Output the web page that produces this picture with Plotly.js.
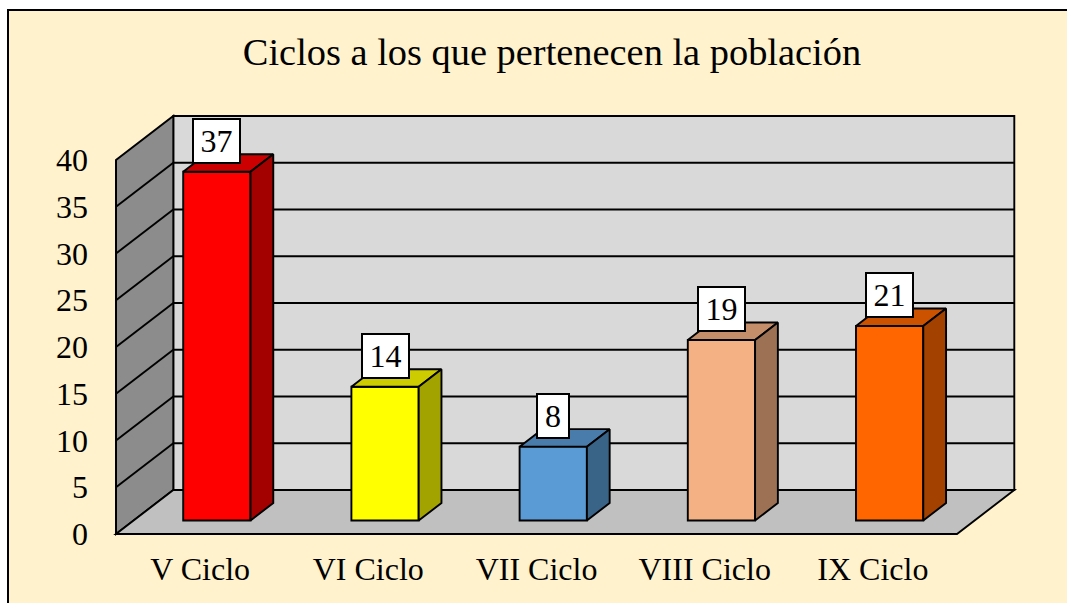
<!DOCTYPE html>
<html>
<head>
<meta charset="utf-8">
<script src="https://cdn.plot.ly/plotly-3.0.1.min.js"></script>
<style>
html,body{margin:0;padding:0;background:#fff;width:1067px;height:603px;overflow:hidden}
#frame{position:absolute;left:7px;top:9px;width:1070px;height:610px;border:2px solid #000;background:#FFF2CC}
#chart{position:absolute;left:0;top:0;width:1067px;height:603px}
</style>
</head>
<body>
<div id="frame"></div>
<div id="chart"></div>
<script>
const categories = ["V Ciclo", "VI Ciclo", "VII Ciclo", "VIII Ciclo", "IX Ciclo"];
// Bar heights; the printed labels are these rounded to whole numbers.
const values = [37.3, 14.3, 7.9, 19.3, 20.8];
const yTicks = [0, 5, 10, 15, 20, 25, 30, 35, 40];
const titleText = "Ciclos a los que pertenecen la población";

const barColors = ["#FF0000", "#FFFF00", "#5B9BD5", "#F4B183", "#FF6600"];

// plot geometry: the drawing box, plus a small pad so outer edges are not clipped
const W = 1067, H = 603;
const left = 116, right = 1014, top_ = 116, bottom = 534, pad = 4;
const catPx = 168.2, unitPx = 9.35;
const depthDx = 57.3 / catPx, depthDy = 44 / unitPx;   // oblique offset of full depth in data units
const barFront = 13.5 / 44, barBack = barFront + 17.5 / 44;
const barHalf = 0.2, barNudge = -0.005;
const serif = "Liberation Serif, Times New Roman, serif";

const xRange = [-0.5 - pad / catPx, -0.5 + (right - left + pad) / catPx];
const yRange = [-pad / unitPx, (bottom - top_ + pad) / unitPx];
const xMin = -0.5, xMax = categories.length - 0.5, yMax = 40;

const px = (x, d) => x + d * depthDx;
const py = (y, d) => y + d * depthDy;
const poly = (pts) => "M" + pts.map(p => p[0] + "," + p[1]).join("L") + "Z";
const pt = (x, y, d) => [px(x, d), py(y, d)];
function shade(hex, f) {
  const n = parseInt(hex.slice(1), 16);
  const c = [n >> 16, (n >> 8) & 255, n & 255].map(v => Math.round(v * f));
  return "rgb(" + c.join(",") + ")";
}

const edge = { color: "#000", width: 1.9 };
const shapes = [];
const addPoly = (pts, fill, line) => shapes.push({
  type: "path", xref: "x", yref: "y", layer: "below",
  path: poly(pts), fillcolor: fill, line: line
});
const addLine = (a, b, line) => shapes.push({
  type: "line", xref: "x", yref: "y", layer: "below",
  x0: a[0], y0: a[1], x1: b[0], y1: b[1], line: line
});

// back wall, side wall, floor
addPoly([pt(xMin,0,1), pt(xMax,0,1), pt(xMax,yMax,1), pt(xMin,yMax,1)], "#D9D9D9", edge);
addPoly([pt(xMin,0,0), pt(xMin,0,1), pt(xMin,yMax,1), pt(xMin,yMax,0)], "#8C8C8C", edge);
addPoly([pt(xMin,0,0), pt(xMax,0,0), pt(xMax,0,1), pt(xMin,0,1)], "#C0C0C0", edge);
// gridlines
yTicks.filter(t => t > 0 && t < yMax).forEach(t => {
  addLine(pt(xMin,t,0), pt(xMin,t,1), edge);
  addLine(pt(xMin,t,1), pt(xMax,t,1), edge);
});
addLine(pt(xMin,0,0), pt(xMax,0,0), { color: "#000", width: 2.2 });
addLine(pt(xMin,0,0), pt(xMin,yMax,0), { color: "#000", width: 2 });

const xIdx = categories.map((_, i) => i);
const traces = [];

// front faces
traces.push({
  type: "bar",
  x: xIdx.map(i => px(i + barNudge, barFront)),
  y: values,
  base: values.map(() => py(0, barFront)),
  width: barHalf * 2,
  marker: { color: barColors, line: { color: "#000", width: 1.9 } },
  hoverinfo: "skip",
  showlegend: false
});

// top and side faces
values.forEach((v, i) => {
  const a = i + barNudge - barHalf, b = i + barNudge + barHalf;
  const faces = [
    { pts: [pt(a,v,barFront), pt(b,v,barFront), pt(b,v,barBack), pt(a,v,barBack)], f: 0.8 },
    { pts: [pt(b,0,barFront), pt(b,0,barBack), pt(b,v,barBack), pt(b,v,barFront)], f: 0.64 }
  ];
  faces.forEach(face => {
    const closed = face.pts.concat([face.pts[0]]);
    traces.push({
      type: "scatter", mode: "lines", fill: "toself",
      x: closed.map(p => p[0]), y: closed.map(p => p[1]),
      fillcolor: shade(barColors[i], face.f),
      line: { color: "#000", width: 1.9 },
      hoverinfo: "skip", showlegend: false
    });
  });
});

// value labels
const annotations = values.map((v, i) => {
  const label = String(Math.round(v));
  return {
    xref: "x", yref: "y",
    x: px(i + barNudge, barFront),
    y: py(v, barFront) + 31 / unitPx,
    text: label,
    showarrow: false,
    xanchor: "center", yanchor: "middle",
    width: label.length > 1 ? 43 : 28,
    height: 40,
    align: "center", valign: "middle",
    bgcolor: "#FFFFFF",
    bordercolor: "#000",
    borderwidth: 2,
    borderpad: 1,
    font: { family: serif, size: 32, color: "#000" }
  };
});

const layout = {
  width: W, height: H,
  margin: { l: left - pad, r: W - right - pad, t: top_ - pad, b: H - bottom - pad, pad: 0 },
  paper_bgcolor: "rgba(0,0,0,0)",
  plot_bgcolor: "rgba(0,0,0,0)",
  showlegend: false,
  bargap: 0,
  title: {
    text: titleText,
    font: { family: serif, size: 38.4, color: "#000" },
    xref: "container", yref: "container",
    x: 552 / W, y: 1 - 52 / H, xanchor: "center", yanchor: "middle"
  },
  xaxis: {
    range: xRange, tickmode: "array", tickvals: xIdx, ticktext: categories,
    showgrid: false, zeroline: false, showline: false, ticks: "",
    ticklabelstandoff: 9, fixedrange: true,
    tickfont: { family: serif, size: 32, color: "#000" }
  },
  yaxis: {
    range: yRange, tickmode: "array", tickvals: yTicks, ticktext: yTicks.map(String),
    showgrid: false, zeroline: false, showline: false, ticks: "",
    ticklabelstandoff: 23, fixedrange: true,
    tickfont: { family: serif, size: 32, color: "#000" }
  },
  shapes: shapes,
  annotations: annotations
};

Plotly.newPlot("chart", traces, layout, { displayModeBar: false, staticPlot: true });
</script>
</body>
</html>
